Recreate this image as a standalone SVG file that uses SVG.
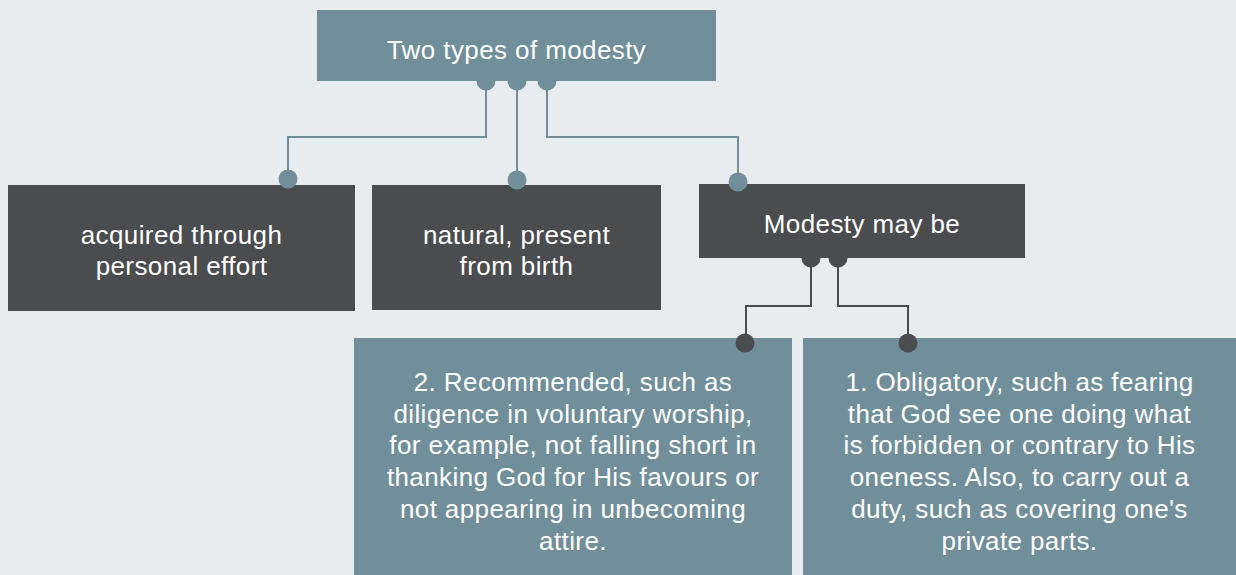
<svg xmlns="http://www.w3.org/2000/svg" width="1236" height="575" viewBox="0 0 1236 575">
<style>
.t{font-family:"Liberation Sans",Arial,Helvetica,sans-serif;font-size:26px;fill:#ffffff;text-anchor:middle;letter-spacing:0.4px}
.teal{fill:#718f9a}
.dark{fill:#4b4c4e}
.lt{fill:none;stroke:#718f9a;stroke-width:2}
.ld{fill:none;stroke:#4b4c4e;stroke-width:2}
</style>
<rect width="1236" height="575" fill="#e8ecef"/>
<g id="connectors">
<path class="lt" d="M486 81V137H288V179"/>
<path class="lt" d="M517 81V180"/>
<path class="lt" d="M547 81V137H738V182"/>
<path class="ld" d="M811 258V306H746V342"/>
<path class="ld" d="M838 258V306H908V342"/>
</g>
<g id="root">
<rect class="teal" x="317" y="10" width="399" height="71"/>
<text class="t" x="516.5" y="59">Two types of modesty</text>
<circle class="teal" cx="486" cy="81" r="9.5"/>
<circle class="teal" cx="517" cy="81" r="9.5"/>
<circle class="teal" cx="547" cy="81" r="9.5"/>
</g>
<g id="acquired">
<rect class="dark" x="8" y="185" width="347" height="126"/>
<text class="t" x="181.5" y="244">acquired through</text>
<text class="t" x="181.5" y="275">personal effort</text>
<circle class="teal" cx="288" cy="179" r="9.5"/>
</g>
<g id="natural">
<rect class="dark" x="372" y="185" width="289" height="125"/>
<text class="t" x="516.5" y="244">natural, present</text>
<text class="t" x="516.5" y="275">from birth</text>
<circle class="teal" cx="517" cy="180" r="9.5"/>
</g>
<g id="maybe">
<rect class="dark" x="699" y="184" width="326" height="74"/>
<text class="t" x="862" y="233">Modesty may be</text>
<circle class="teal" cx="738" cy="182" r="9.5"/>
<circle class="dark" cx="811" cy="258" r="9.5"/>
<circle class="dark" cx="838" cy="258" r="9.5"/>
</g>
<g id="recommended">
<rect class="teal" x="354" y="338" width="438" height="237"/>
<text class="t" x="573" y="391">2. Recommended, such as</text>
<text class="t" x="573" y="422.7">diligence in voluntary worship,</text>
<text class="t" x="573" y="454.4">for example, not falling short in</text>
<text class="t" x="573" y="486.1">thanking God for His favours or</text>
<text class="t" x="573" y="517.8">not appearing in unbecoming</text>
<text class="t" x="573" y="549.5">attire.</text>
<circle class="dark" cx="745" cy="343" r="9.5"/>
</g>
<g id="obligatory">
<rect class="teal" x="803" y="338" width="433" height="237"/>
<text class="t" x="1019.5" y="391">1. Obligatory, such as fearing</text>
<text class="t" x="1019.5" y="422.7">that God see one doing what</text>
<text class="t" x="1019.5" y="454.4">is forbidden or contrary to His</text>
<text class="t" x="1019.5" y="486.1">oneness. Also, to carry out a</text>
<text class="t" x="1019.5" y="517.8">duty, such as covering one's</text>
<text class="t" x="1019.5" y="549.5">private parts.</text>
<circle class="dark" cx="908" cy="343" r="9.5"/>
</g>
</svg>
